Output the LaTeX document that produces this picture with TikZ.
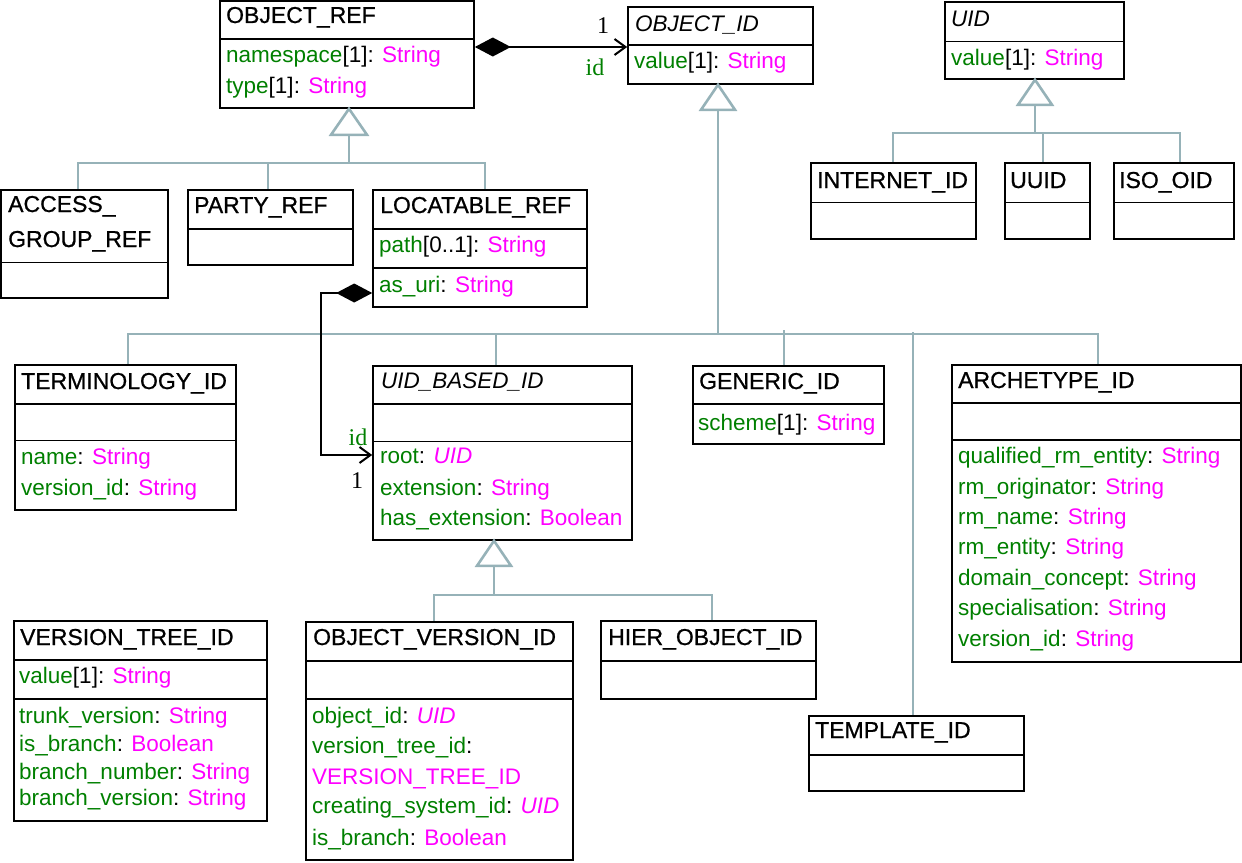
\documentclass[tikz,border=0pt]{standalone}
\usepackage{fontspec}
\setmainfont{Liberation Sans}
\newfontfamily\lblfont{Liberation Serif}
\newfontfamily\ttlfont[FakeBold=0.8]{Liberation Sans}
\usetikzlibrary{fit,arrows.meta}
\definecolor{ag}{RGB}{0,128,0}
\definecolor{tm}{RGB}{255,0,255}
\definecolor{gl}{RGB}{150,178,184}
\newcommand\an[1]{\textcolor{ag}{#1}}
\newcommand\ty[1]{\textcolor{tm}{#1}}
\tikzset{
  cbox/.style={draw=black, fill=white, line width=1.6pt, inner sep=0pt, fit={#1}},
  sepl/.style={line width=1.4pt},
  txt/.style={anchor=base west, inner sep=0pt, font=\fontsize{22.5}{27}\selectfont},
  ttl/.style={anchor=base west, inner sep=0pt, font=\ttlfont\fontsize{23}{27}\selectfont},
  genl/.style={draw=gl, line width=2.6pt},
  gtri/.style={draw=gl, line width=2.6pt, fill=white, line join=miter},
  assoc/.style={line width=2.6pt, black, {Diamond[length=36pt,width=19pt]}-{Straight Barb[length=11pt,width=16pt,line width=2pt]}},
  lbl/.style={inner sep=0pt, anchor=base, font=\lblfont\fontsize{24}{28}\selectfont},
}
\begin{document}
\begin{tikzpicture}[x=1pt,y=-1pt]
\useasboundingbox (0,0) rectangle (1242,862);

% ---------- generalization lines ----------
% OBJECT_REF hierarchy
\draw[genl] (349,134) -- (349,163);
\draw[genl] (78,190) |- (485,163) -- (485,190);
\draw[genl] (268,190) -- (268,163);
% OBJECT_ID hierarchy
\draw[genl] (718,109) -- (718,334);
\draw[genl] (128,365) |- (1098,334) -- (1098,365);
\draw[genl] (496,365) -- (496,334);
\draw[genl] (784,366) -- (784,330);
\draw[genl] (913,716) -- (913,332);
% UID hierarchy
\draw[genl] (1035,104) -- (1035,133);
\draw[genl] (893,163) |- (1180,133) -- (1180,163);
\draw[genl] (1043,163) -- (1043,133);
% UID_BASED_ID hierarchy
\draw[genl] (494,565) -- (494,595);
\draw[genl] (434,622) |- (712,595) -- (712,621);

% ---------- class boxes ----------
\node[cbox={(220,1)(474,108)}] (objref) {};
\draw[sepl] (objref.west |- 0,39) -- (objref.east |- 0,39);
\node[ttl] (objref-t) at (226,23) {OBJECT\_REF};
\node[txt] (objref-a1) at (226,62) {\an{namespace}[1]: \ty{String}};
\node[txt] (objref-a2) at (226,93) {\an{type}[1]: \ty{String}};

\node[cbox={(628,7)(813,84)}] (objid) {};
\draw[sepl] (objid.west |- 0,45) -- (objid.east |- 0,45);
\node[txt] (objid-t) at (635,31) {\itshape OBJECT\_ID};
\node[txt] (objid-a1) at (634,68) {\an{value}[1]: \ty{String}};

\node[cbox={(945,2)(1124,79)}] (uid) {};
\draw[line width=1pt] (uid.west |- 0,41) -- (uid.east |- 0,41);
\node[txt] (uid-t) at (951,26) {\itshape UID};
\node[txt] (uid-a1) at (951,65) {\an{value}[1]: \ty{String}};

\node[cbox={(811,163)(976,239)}] (inet) {};
\draw[line width=1pt] (inet.west |- 0,202) -- (inet.east |- 0,202);
\node[ttl] (inet-t) at (817,188) {INTERNET\_ID};

\node[cbox={(1005,163)(1090,239)}] (uuid) {};
\draw[line width=1pt] (uuid.west |- 0,202) -- (uuid.east |- 0,202);
\node[ttl] (uuid-t) at (1010,188) {UUID};

\node[cbox={(1114,163)(1234,239)}] (isooid) {};
\draw[line width=1pt] (isooid.west |- 0,202) -- (isooid.east |- 0,202);
\node[ttl] (isooid-t) at (1119,188) {ISO\_OID};

\node[cbox={(1,190)(168,298)}] (access) {};
\draw[line width=1pt] (access.west |- 0,262) -- (access.east |- 0,262);
\node[ttl] (access-t1) at (8,212) {ACCESS\_};
\node[ttl] (access-t2) at (8,247) {GROUP\_REF};

\node[cbox={(188,190)(353,265)}] (party) {};
\draw[sepl] (party.west |- 0,229) -- (party.east |- 0,229);
\node[ttl] (party-t) at (194,213) {PARTY\_REF};

\node[cbox={(373,190)(587,307)}] (locref) {};
\draw[sepl] (locref.west |- 0,229) -- (locref.east |- 0,229);
\draw[sepl] (locref.west |- 0,268) -- (locref.east |- 0,268);
\node[ttl] (locref-t) at (380,213) {LOCATABLE\_REF};
\node[txt] (locref-a1) at (379,252) {\an{path}[0..1]: \ty{String}};
\node[txt] (locref-a2) at (379,292) {\an{as\_uri}: \ty{String}};

\node[cbox={(15,365)(236,510)}] (term) {};
\draw[sepl] (term.west |- 0,404) -- (term.east |- 0,404);
\draw[line width=1pt] (term.west |- 0,440) -- (term.east |- 0,440);
\node[ttl] (term-t) at (21,389) {TERMINOLOGY\_ID};
\node[txt] (term-a1) at (21,464) {\an{name}: \ty{String}};
\node[txt] (term-a2) at (21,495) {\an{version\_id}: \ty{String}};

\node[cbox={(373,366)(632,540)}] (uidb) {};
\draw[sepl] (uidb.west |- 0,404) -- (uidb.east |- 0,404);
\draw[line width=1pt] (uidb.west |- 0,441) -- (uidb.east |- 0,441);
\node[txt] (uidb-t) at (381,388) {\itshape UID\_BASED\_ID};
\node[txt] (uidb-a1) at (380,463) {\an{root}: \ty{\itshape UID}};
\node[txt] (uidb-a2) at (380,495) {\an{extension}: \ty{String}};
\node[txt] (uidb-a3) at (380,525) {\an{has\_extension}: \ty{Boolean}};

\node[cbox={(693,366)(884,444)}] (generic) {};
\draw[sepl] (generic.west |- 0,404) -- (generic.east |- 0,404);
\node[ttl] (generic-t) at (699,389) {GENERIC\_ID};
\node[txt] (generic-a1) at (698,430) {\an{scheme}[1]: \ty{String}};

\node[cbox={(952,365)(1241,662)}] (arch) {};
\draw[sepl] (arch.west |- 0,403) -- (arch.east |- 0,403);
\draw[sepl] (arch.west |- 0,440) -- (arch.east |- 0,440);
\node[ttl] (arch-t) at (958,388) {ARCHETYPE\_ID};
\node[txt] (arch-a1) at (958,463) {\an{qualified\_rm\_entity}: \ty{String}};
\node[txt] (arch-a2) at (958,494) {\an{rm\_originator}: \ty{String}};
\node[txt] (arch-a3) at (958,524) {\an{rm\_name}: \ty{String}};
\node[txt] (arch-a4) at (958,554) {\an{rm\_entity}: \ty{String}};
\node[txt] (arch-a5) at (958,585) {\an{domain\_concept}: \ty{String}};
\node[txt] (arch-a6) at (958,615) {\an{specialisation}: \ty{String}};
\node[txt] (arch-a7) at (958,646) {\an{version\_id}: \ty{String}};

\node[cbox={(809,716)(1024,791)}] (tmpl) {};
\draw[sepl] (tmpl.west |- 0,755) -- (tmpl.east |- 0,755);
\node[ttl] (tmpl-t) at (815,738) {TEMPLATE\_ID};

\node[cbox={(14,621)(267,821)}] (vtree) {};
\draw[sepl] (vtree.west |- 0,660) -- (vtree.east |- 0,660);
\draw[sepl] (vtree.west |- 0,699) -- (vtree.east |- 0,699);
\node[ttl] (vtree-t) at (20,645) {VERSION\_TREE\_ID};
\node[txt] (vtree-a1) at (19,683) {\an{value}[1]: \ty{String}};
\node[txt] (vtree-a2) at (19,723) {\an{trunk\_version}: \ty{String}};
\node[txt] (vtree-a3) at (19,751) {\an{is\_branch}: \ty{Boolean}};
\node[txt] (vtree-a4) at (19,779) {\an{branch\_number}: \ty{String}};
\node[txt] (vtree-a5) at (19,805) {\an{branch\_version}: \ty{String}};

\node[cbox={(306,622)(573,860)}] (ovid) {};
\draw[sepl] (ovid.west |- 0,661) -- (ovid.east |- 0,661);
\draw[sepl] (ovid.west |- 0,699) -- (ovid.east |- 0,699);
\node[ttl] (ovid-t) at (313,645) {OBJECT\_VERSION\_ID};
\node[txt] (ovid-a1) at (312,723) {\an{object\_id}: \ty{\itshape UID}};
\node[txt] (ovid-a2) at (312,753) {\an{version\_tree\_id}:};
\node[txt] (ovid-a2b) at (312,784) {\ty{VERSION\_TREE\_ID}};
\node[txt] (ovid-a3) at (312,813) {\an{creating\_system\_id}: \ty{\itshape UID}};
\node[txt] (ovid-a4) at (312,845) {\an{is\_branch}: \ty{Boolean}};

\node[cbox={(601,621)(816,699)}] (hier) {};
\draw[sepl] (hier.west |- 0,661) -- (hier.east |- 0,661);
\node[ttl] (hier-t) at (608,645) {HIER\_OBJECT\_ID};

% ---------- generalization triangles ----------
\draw[gtri] (objref.south -| 349,0) -- ++(-18,26) -- ++(36,0) -- cycle;
\draw[gtri] (objid.south -| 718,0) -- ++(-17,25) -- ++(34,0) -- cycle;
\draw[gtri] (uid.south -| 1035,0) -- ++(-17,25) -- ++(34,0) -- cycle;
\draw[gtri] (uidb.south -| 494,0) -- ++(-17,25) -- ++(34,0) -- cycle;

% ---------- compositions ----------
\draw[assoc] (objref.east |- 0,47) -- (objid.west |- 0,47);
\node[lbl] (l1a) at (603,33) {1};
\node[lbl, text=ag] (l1b) at (595,75) {id};

\draw[assoc] (locref.west |- 0,293) -- (321,293) -- (321,455) -- (uidb.west |- 0,455);
\node[lbl, text=ag] (l2a) at (358,445) {id};
\node[lbl] (l2b) at (357,488) {1};
\end{tikzpicture}
\end{document}
